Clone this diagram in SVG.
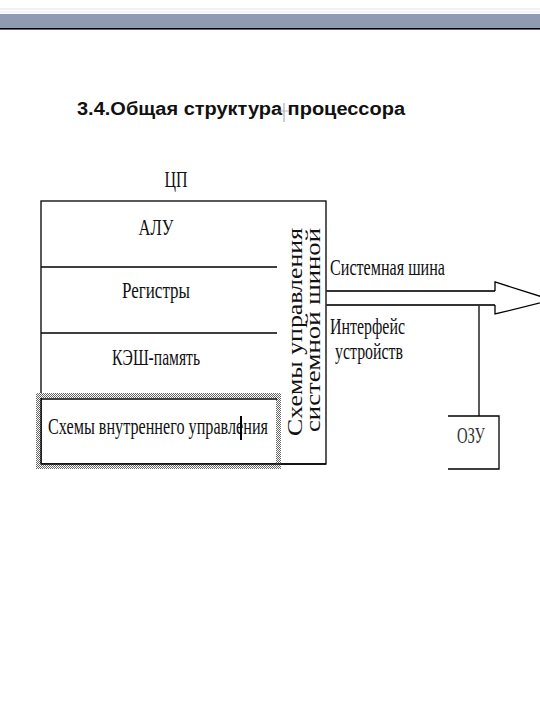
<svg xmlns="http://www.w3.org/2000/svg" width="540" height="720" viewBox="0 0 540 720">
  <style>
    .t { font-family: "Liberation Serif", "DejaVu Serif", serif; font-size: 23px; fill: #111; }
    .v { font-family: "Liberation Serif", "DejaVu Serif", serif; font-size: 21px; fill: #111; }
    .ln { stroke: #000; stroke-width: 1.3; fill: none; }
    .shaft { stroke: #333; stroke-width: 2; fill: none; }
  </style>
  <defs>
    <pattern id="hatch" width="2" height="2" patternUnits="userSpaceOnUse">
      <rect width="2" height="2" fill="#fff"/>
      <rect x="0" y="0" width="1" height="1" fill="#666"/>
      <rect x="1" y="1" width="1" height="1" fill="#666"/>
    </pattern>
  </defs>
  <rect width="540" height="720" fill="#fff"/>

  <g id="header">
    <rect x="0" y="8" width="540" height="2" fill="#f2f0fa"/>
    <rect x="0" y="11" width="540" height="2" fill="#f4f2fb"/>
    <rect x="0" y="14" width="540" height="14" fill="#8f9bb0"/>
    <rect x="0" y="28" width="540" height="1.6" fill="#000"/>
  </g>

  <g id="title">
    <text x="77" y="115" textLength="328" lengthAdjust="spacingAndGlyphs" style="font-family:'Liberation Sans','DejaVu Sans',sans-serif;font-size:18px;font-weight:bold;fill:#111">3.4.Общая структура процессора</text>
    <line x1="284" y1="103" x2="284" y2="122" stroke="#888" stroke-width="0.8"/>
    <line x1="279" y1="111" x2="289" y2="111" stroke="#aaa" stroke-width="0.8"/>
  </g>

  <g id="cpu">
    <text class="t" x="176" y="187" text-anchor="middle" textLength="23" lengthAdjust="spacingAndGlyphs">ЦП</text>
    <rect x="41" y="201" width="285" height="263" class="ln"/>
  </g>

  <g id="alu">
    <text class="t" x="156" y="235" text-anchor="middle" textLength="35" lengthAdjust="spacingAndGlyphs">АЛУ</text>
    <line x1="41" y1="267" x2="277" y2="267" class="ln"/>
  </g>

  <g id="registers">
    <text class="t" x="156" y="298" text-anchor="middle" textLength="68" lengthAdjust="spacingAndGlyphs">Регистры</text>
    <line x1="41" y1="333" x2="277" y2="333" class="ln"/>
  </g>

  <g id="cache">
    <text class="t" x="156" y="365" text-anchor="middle" textLength="88" lengthAdjust="spacingAndGlyphs">КЭШ-память</text>
  </g>

  <g id="internal-control">
    <path d="M36,393 H281 V469 H36 Z M41,398 V464 H276 V398 Z" fill="url(#hatch)" fill-rule="evenodd"/>
    <line x1="41" y1="399" x2="277" y2="399" class="ln"/>
    <line x1="41" y1="398" x2="41" y2="464" class="ln"/>
    <line x1="41" y1="464" x2="326" y2="464" class="ln"/>
    <text class="t" x="48" y="434" textLength="220" lengthAdjust="spacingAndGlyphs">Схемы внутреннего управления</text>
    <line x1="241" y1="416" x2="241" y2="440" stroke="#000" stroke-width="2"/>
  </g>

  <g id="bus-control">
    <text class="v" transform="translate(302,332) rotate(-90)" text-anchor="middle" textLength="208" lengthAdjust="spacingAndGlyphs">Схемы управления</text>
    <text class="v" transform="translate(320,330) rotate(-90)" text-anchor="middle" textLength="204" lengthAdjust="spacingAndGlyphs">системной шиной</text>
  </g>

  <g id="ram">
    <path d="M448,416 H499 V469 H448" class="ln"/>
    <text class="t" x="471" y="443" text-anchor="middle" textLength="28" lengthAdjust="spacingAndGlyphs" style="fill:#333">ОЗУ</text>
  </g>

  <g id="labels">
    <text class="t" x="330" y="275" textLength="115" lengthAdjust="spacingAndGlyphs">Системная шина</text>
    <text class="t" x="330" y="334" textLength="75" lengthAdjust="spacingAndGlyphs">Интерфейс</text>
    <text class="t" x="335" y="359" textLength="68" lengthAdjust="spacingAndGlyphs">устройств</text>
  </g>

  <g id="connectors">
    <line x1="326" y1="291" x2="495" y2="291" class="shaft"/>
    <line x1="326" y1="305" x2="495" y2="305" class="shaft"/>
    <path d="M495,291 V282 L552,300 L495,314 V305" class="ln"/>
    <line x1="479" y1="306" x2="479" y2="416" class="ln"/>
  </g>
</svg>
